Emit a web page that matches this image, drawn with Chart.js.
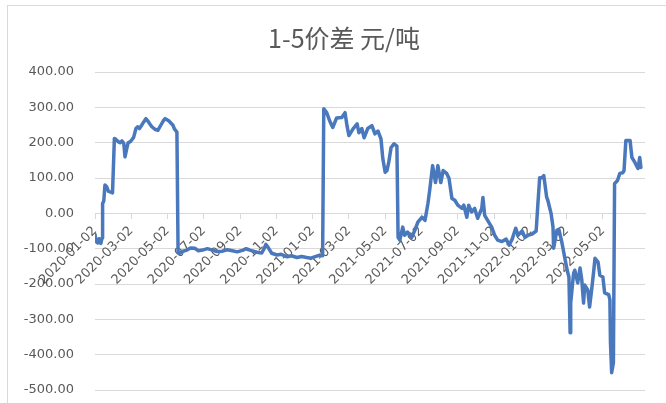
<!DOCTYPE html>
<html>
<head>
<meta charset="utf-8">
<script src="https://cdn.jsdelivr.net/npm/chart.js@4/dist/chart.umd.min.js"></script>
<style>
  html, body { margin: 0; padding: 0; background: #fff; }
  #wrap { width: 666px; height: 403px; }
</style>
</head>
<body>
<div id="wrap"><canvas id="c" width="666" height="403"></canvas></div>
<script>
// Trading dates and the 1-5 spread (yuan/ton)
const dates = [
  '2020-01-02','2020-01-04','2020-01-07','2020-01-09','2020-01-12','2020-01-14','2020-01-15','2020-01-17',
  '2020-01-19','2020-01-22','2020-01-25','2020-01-29','2020-02-01','2020-02-04','2020-02-06','2020-02-10',
  '2020-02-13','2020-02-16','2020-02-19','2020-02-21','2020-02-24','2020-02-26','2020-02-29','2020-03-03',
  '2020-03-06','2020-03-10','2020-03-13','2020-03-16','2020-03-20','2020-03-23','2020-03-27','2020-03-30',
  '2020-04-03','2020-04-06','2020-04-11','2020-04-16','2020-04-21','2020-04-25','2020-04-28','2020-05-01',
  '2020-05-04','2020-05-08','2020-05-11','2020-05-14','2020-05-18','2020-05-20','2020-05-23','2020-05-27',
  '2020-06-04','2020-06-10','2020-06-17','2020-06-23','2020-06-30','2020-07-08','2020-07-17','2020-07-24',
  '2020-08-03','2020-08-11','2020-08-20','2020-08-28','2020-09-07','2020-09-12','2020-09-18','2020-09-24',
  '2020-09-30','2020-10-08','2020-10-12','2020-10-15','2020-10-18','2020-10-22','2020-10-25','2020-11-03',
  '2020-11-10','2020-11-20','2020-11-27','2020-12-06','2020-12-14','2020-12-23','2020-12-30','2021-01-09',
  '2021-01-14','2021-01-19','2021-01-21','2021-01-26','2021-01-31','2021-02-05','2021-02-11','2021-02-19',
  '2021-02-24','2021-02-27','2021-03-02','2021-03-09','2021-03-16','2021-03-19','2021-03-24','2021-03-28',
  '2021-04-03','2021-04-10','2021-04-15','2021-04-20','2021-04-25','2021-04-28','2021-05-02','2021-05-05',
  '2021-05-08','2021-05-12','2021-05-17','2021-05-22','2021-05-24','2021-05-27','2021-06-01','2021-06-04',
  '2021-06-09','2021-06-16','2021-06-21','2021-06-26','2021-07-03','2021-07-08','2021-07-13','2021-07-16',
  '2021-07-21','2021-07-26','2021-07-30','2021-08-04','2021-08-08','2021-08-14','2021-08-18','2021-08-23',
  '2021-08-28','2021-09-02','2021-09-09','2021-09-12','2021-09-17','2021-09-20','2021-09-25','2021-09-30',
  '2021-10-05','2021-10-12','2021-10-14','2021-10-17','2021-10-22','2021-10-29','2021-11-03','2021-11-08',
  '2021-11-15','2021-11-22','2021-11-27','2021-12-02','2021-12-08','2021-12-12','2021-12-19','2021-12-24',
  '2021-12-29','2022-01-05','2022-01-12','2022-01-15','2022-01-18','2022-01-22','2022-01-25','2022-01-30',
  '2022-02-01','2022-02-06','2022-02-09','2022-02-10','2022-02-15','2022-02-18','2022-02-22','2022-02-27',
  '2022-03-03','2022-03-06','2022-03-08','2022-03-09','2022-03-14','2022-03-16','2022-03-21','2022-03-25',
  '2022-03-28','2022-03-31','2022-04-02','2022-04-07','2022-04-10','2022-04-14','2022-04-17','2022-04-19',
  '2022-04-24','2022-04-27','2022-05-02','2022-05-05','2022-05-12','2022-05-14','2022-05-15','2022-05-17',
  '2022-05-20','2022-05-22','2022-05-27','2022-05-31','2022-06-05','2022-06-07','2022-06-10','2022-06-17',
  '2022-06-20','2022-06-25','2022-06-30','2022-07-03','2022-07-05'
];
const spread = [
  -60, -80, -84, -72, -85, -70, 28, 35,
  80, 75, 62, 60, 58, 212, 210, 203,
  200, 205, 198, 160, 185, 200, 202, 208,
  215, 240, 245, 240, 250, 258, 268, 262,
  252, 245, 238, 235, 250, 262, 268, 265,
  262, 255, 250, 238, 230, -110, -113, -108,
  -104, -98, -99, -106, -104, -100, -104, -108,
  -107, -103, -106, -109, -104, -100, -104, -107,
  -110, -112, -100, -88, -94, -105, -113, -118,
  -116, -123, -120, -125, -122, -125, -127, -121,
  -118, -120, 296, 285, 262, 243, 270, 271,
  285, 248, 220, 239, 253, 228, 240, 214,
  240, 248, 225, 233, 211, 155, 116, 121,
  144, 186, 197, 190, -68, -76, -39, -62,
  -53, -68, -48, -25, -11, -20, 28, 65,
  135, 87, 135, 87, 121, 113, 99, 42,
  37, 23, 14, 23, -11, 23, 4, 14,
  -14, 14, 45, -6, -20, -39, -62, -76,
  -80, -73, -90, -73, -42, -62, -50, -68,
  -62, -59, -50, 28, 101, 101, 107, 45,
  37, 0, -39, -99, -48, -45, -76, -124,
  -161, -180, -338, -254, -169, -161, -197, -155,
  -189, -254, -203, -217, -265, -208, -161, -127,
  -138, -175, -180, -225, -230, -245, -366, -451,
  -423, 84, 93, 113, 115, 121, 206, 206,
  158, 144, 127, 158, 130
];
// Category tick labels along the x axis (every two months)
const tickLabels = [
  '2020-01-02','2020-03-02','2020-05-02','2020-07-02','2020-09-02','2020-11-02','2021-01-02',
  '2021-03-02','2021-05-02','2021-07-02','2021-09-02','2021-11-02','2022-01-02','2022-03-02','2022-05-02'
];
const axisEnd = '2022-07-12';

// Month-based position of a date, so every month gets the same width
function monthPos(s) {
  const [y, m, d] = s.split('-').map(Number);
  const dim = new Date(y, m, 0).getDate();
  return (y - 2020) * 12 + (m - 1) + (d - 2) / dim;
}

const points = dates.map((d, i) => ({ x: monthPos(d), y: spread[i] }));
const grey = '#595959';
const gridGrey = '#d9d9d9';
const labelFont = { family: "'DejaVu Sans', sans-serif", size: 13 };

const frame = {
  id: 'frame',
  beforeDraw(chart) {
    const ctx = chart.ctx;
    ctx.save();
    ctx.fillStyle = '#fff';
    ctx.fillRect(0, 0, chart.width, chart.height);
    ctx.strokeStyle = gridGrey;
    ctx.lineWidth = 1;
    ctx.strokeRect(7.5, 5.5, chart.width + 20, chart.height + 20);
    ctx.restore();
  }
};

new Chart(document.getElementById('c'), {
  type: 'line',
  data: {
    datasets: [{
      data: points,
      borderColor: '#4a78bd',
      borderWidth: 3.5,
      pointRadius: 0,
      tension: 0,
      fill: false,
      borderJoinStyle: 'round',
      borderCapStyle: 'round'
    }]
  },
  options: {
    responsive: false,
    animation: false,
    devicePixelRatio: 1,
    layout: { padding: { left: 22, right: 0, top: 0, bottom: 13 } },
    plugins: {
      legend: { display: false },
      tooltip: { enabled: false },
      title: {
        display: true,
        text: '1-5价差 元/吨',
        color: grey,
        font: { family: "'Noto Sans CJK SC', 'DejaVu Sans', sans-serif", size: 25, weight: 'normal' },
        padding: { top: 23, bottom: 19 }
      }
    },
    scales: {
      x: {
        type: 'linear',
        min: 0,
        max: monthPos(axisEnd),
        position: { y: 0 },
        afterBuildTicks: s => { s.ticks = tickLabels.map(t => ({ value: monthPos(t) })); },
        afterFit: s => { s.height = 0; s.paddingLeft = 0; s.paddingRight = 0; },
        grid: { display: true, drawOnChartArea: false, drawTicks: true, tickLength: 5, color: gridGrey },
        border: { display: true, color: gridGrey, width: 1 },
        ticks: {
          autoSkip: false,
          minRotation: 45,
          maxRotation: 45,
          padding: 5,
          color: grey,
          font: labelFont,
          callback: (v, i) => tickLabels[i]
        }
      },
      y: {
        min: -500,
        max: 400,
        afterFit: s => { s.width = 73; s.paddingTop = 0; s.paddingBottom = 0; },
        grid: { color: gridGrey, drawTicks: false },
        border: { display: false },
        ticks: {
          stepSize: 100,
          padding: 21,
          color: grey,
          font: labelFont,
          callback: v => Number(v).toFixed(2)
        }
      },
      // empty margin on the right side of the plot
      yRight: {
        position: 'right',
        afterFit: s => { s.width = 21; s.paddingTop = 0; s.paddingBottom = 0; },
        grid: { display: false },
        border: { display: false },
        ticks: { display: false }
      }
    }
  },
  plugins: [frame]
});
</script>
</body>
</html>
